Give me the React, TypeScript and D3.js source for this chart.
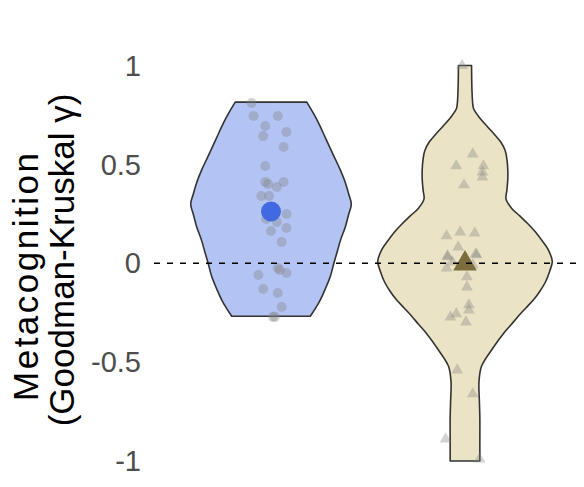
import React from "react";
import * as d3 from "d3";

const W = 584;
const H = 487;

const categories = ["Group A", "Group B"];
const yTicks = [-1, -0.5, 0, 0.5, 1];
const titleLines = ["Metacognition", "(Goodman-Kruskal γ)"];

// violin outline profiles: value and relative half-width (density)
const violinAValues = [0.815, 0.763, 0.714, 0.628, 0.542, 0.476, 0.41, 0.35, 0.299, 0.248, 0.182, 0.122, 0.061, 0, -0.066, -0.132, -0.198, -0.268];
const violinAWidths = [0.41, 0.48, 0.54, 0.63, 0.72, 0.79, 0.85, 0.89, 0.92, 0.89, 0.85, 0.8, 0.76, 0.72, 0.68, 0.62, 0.55, 0.45];

const violinBValues = [1.0, 0.873, 0.8, 0.78, 0.74, 0.694, 0.65, 0.613, 0.57, 0.527, 0.475, 0.425, 0.37, 0.324, 0.28, 0.238, 0.2, 0.157, 0.11, 0.071, 0.01, -0.04, -0.096, -0.14, -0.182, -0.225, -0.268, -0.31, -0.35, -0.435, -0.52, -0.6, -0.7, -0.78, -0.9, -1.0];
const violinBWidths = [0.075, 0.08, 0.09, 0.1, 0.16, 0.25, 0.34, 0.41, 0.46, 0.48, 0.49, 0.49, 0.48, 0.47, 0.53, 0.63, 0.72, 0.81, 0.89, 0.95, 1.0, 0.97, 0.92, 0.86, 0.79, 0.7, 0.61, 0.53, 0.45, 0.31, 0.19, 0.16, 0.165, 0.17, 0.17, 0.17];

// individual observations and their jitter (fraction of half-step)
const pointsA = [0.81, 0.745, 0.745, 0.694, 0.643, 0.664, 0.588, 0.492, 0.411, 0.401, 0.386, 0.411, 0.34, 0.34, 0.249, 0.224, 0.209, 0.163, 0.178, 0.107, -0.024, -0.034, -0.049, -0.059, -0.13, -0.15, -0.221, -0.271, -0.271];
const jitterA = [-0.2, -0.18, 0.07, -0.06, -0.08, 0.16, 0.13, -0.06, -0.06, -0.03, 0.06, 0.13, -0.1, -0.02, 0.16, -0.05, 0.06, 0, 0.16, 0.11, 0.07, 0.09, 0.16, -0.13, -0.08, 0.07, 0.11, 0.04, 0.02];

const pointsB = [1.0, 0.552, 0.492, 0.492, 0.461, 0.436, 0.396, 0.138, 0.158, 0.153, 0.082, 0.037, 0.047, 0.006, 0.032, 0.042, -0.024, -0.009, -0.069, -0.12, -0.211, -0.237, -0.272, -0.256, -0.297, -0.54, -0.661, -0.889, -0.99];
const jitterB = [-0.03, 0.08, -0.09, 0.19, 0.18, 0.18, -0.01, -0.19, -0.05, 0.1, -0.07, -0.18, 0.11, -0.13, -0.18, 0.12, -0.19, 0.08, 0.02, 0.02, 0.04, 0.04, -0.15, -0.09, 0.01, -0.08, 0.08, -0.2, 0.15];

export default function App() {
  const y = d3.scaleLinear().domain([-1, 1]).range([461, 65.5]);
  const x = d3.scalePoint<string>().domain(categories).range([174, 562]).padding(0.5);
  const half = x.step() / 2;
  const wScale = d3.scaleLinear().domain([0, 1]).range([0, half * 0.9]);

  const violins = [
    { cat: categories[0], values: violinAValues, widths: violinAWidths, fill: "#b3c3f3" },
    { cat: categories[1], values: violinBValues, widths: violinBWidths, fill: "#ebe3c5" },
  ];

  const makeArea = (cx: number) =>
    d3
      .area<[number, number]>()
      .y((d) => y(d[0]))
      .x0((d) => cx - wScale(d[1]))
      .x1((d) => cx + wScale(d[1]))
      .curve(d3.curveCatmullRom);

  const cxA = x(categories[0]) as number;
  const cxB = x(categories[1]) as number;
  const meanA = d3.mean(pointsA) as number;
  const meanB = d3.mean(pointsB) as number;
  const tri = d3.symbol().type(d3.symbolTriangle);
  const fmt = (v: number) => String(v);

  return (
    <svg width={W} height={H} style={{ position: "absolute", left: 0, top: 0, background: "#fff" }} fontFamily="'Liberation Sans', Arial, sans-serif">
      {violins.map((v) => {
        const cx = x(v.cat) as number;
        const data = v.values.map((val, i) => [val, v.widths[i]] as [number, number]);
        return (
          <path key={v.cat} d={makeArea(cx)(data) || ""} fill={v.fill} stroke="#333" strokeWidth={1.6} strokeLinejoin="round" />
        );
      })}
      {pointsA.map((p, i) => (
        <circle key={"a" + i} cx={cxA + jitterA[i] * half} cy={y(p)} r={5} fill="#808080" fillOpacity={0.35} />
      ))}
      {pointsB.map((p, i) => (
        <path key={"b" + i} transform={`translate(${cxB + jitterB[i] * half},${y(p)})`} d={tri.size(60)() || ""} fill="#808080" fillOpacity={0.35} />
      ))}
      <circle cx={cxA} cy={y(meanA)} r={10} fill="#4169e1" />
      <path transform={`translate(${cxB},${y(meanB)})`} d={tri.size(240)() || ""} fill="#7b6d3e" />
      <line x1={154} x2={577} y1={y(0)} y2={y(0)} stroke="#000" strokeWidth={1.3} strokeDasharray="6 7" />
      {yTicks.map((t) => (
        <text key={t} x={141} y={y(t)} dy="0.35em" textAnchor="end" fontSize={29} fill="#4d4d4d">
          {fmt(t)}
        </text>
      ))}
      <text transform="rotate(-90)" textAnchor="middle" fontSize={35} fill="#000">
        <tspan x={-277} y={38} textLength={248} lengthAdjust="spacing">{titleLines[0]}</tspan>
        <tspan x={-260} y={74}>{titleLines[1]}</tspan>
      </text>
    </svg>
  );
}
